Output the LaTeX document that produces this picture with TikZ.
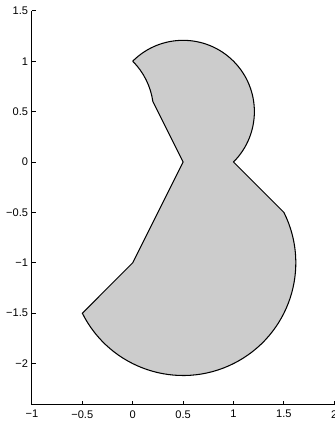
\documentclass[tikz,border=0pt]{standalone}
\usepackage{fontspec}
\setmainfont{Liberation Sans}
\begin{document}
\begin{tikzpicture}
\useasboundingbox (0,0) rectangle (6.7,8.48);
\tikzset{
  axisline/.style={line width=0.5pt, black},
  tickmark/.style={line width=0.5pt, black},
  ticklabel/.style={inner sep=0pt, font=\fontsize{6.3}{7.5}\selectfont},
  region/.style={fill={rgb,255:red,204;green,204;blue,204}, draw=black, line width=0.6pt, line join=miter}
}
\begin{scope}[shift={(2.654,5.24)}, x=2.016cm, y=2.016cm]
  % shape
  \draw[region] (0,1) arc[start angle=135, end angle=-45, radius=0.70711]
    -- (1.5,-0.5) arc[start angle=26.565, end angle=-153.435, radius=1.11803]
    -- (0,-1) -- (0.5,0) -- (0.2,0.6)
    arc[start angle=8.130, end angle=45, radius=0.70711] -- cycle;
  % axes
  \coordinate (o) at (-1,-2.41);
  \coordinate (ytop) at (-1,1.5);
  \coordinate (xend) at (2,-2.41);
  \draw[axisline] (ytop) -- (o) -- (xend);
  % y ticks
  \foreach \v/\t [count=\i] in {1.5/1.5, 1/1, 0.5/0.5, 0/0, -0.5/{−0.5}, -1/{−1}, -1.5/{−1.5}, -2/{−2}} {
    \draw[tickmark] (-1,\v) -- ++(0.04,0);
    \node[ticklabel, anchor=east] (yl\i) at ([xshift=-0.07cm]-1,\v) {\t};
  }
  % x ticks
  \foreach \v/\t [count=\i] in {-1/{−1}, -0.5/{−0.5}, 0/0, 0.5/0.5, 1/1, 1.5/1.5, 2/2} {
    \draw[tickmark] (\v,-2.41) -- ++(0,0.04);
    \node[ticklabel, anchor=north] (xl\i) at ([yshift=-0.1cm]\v,-2.41) {\t};
  }
\end{scope}
\end{tikzpicture}
\end{document}
